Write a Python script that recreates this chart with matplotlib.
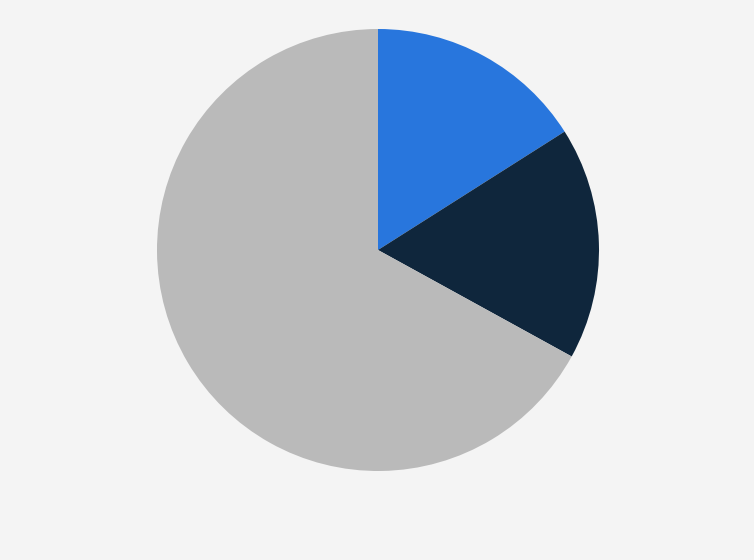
import matplotlib
matplotlib.use("Agg")
import matplotlib.pyplot as plt

labels = ["A", "B", "C"]
values = [16, 17, 67]
colors = ["#2876dd", "#0f263c", "#bababa"]

fig = plt.figure(figsize=(7.54, 5.6), dpi=100)
fig.patch.set_facecolor("#f4f4f4")

# square axes centred on the pie
ax = fig.add_axes([(378 - 221) / 754, (310 - 221) / 560, 442 / 754, 442 / 560])
ax.set_facecolor("#f4f4f4")
ax.pie(values, colors=colors, startangle=90, counterclock=False,
       radius=1, wedgeprops=dict(linewidth=0))
ax.set_xlim(-1, 1)
ax.set_ylim(-1, 1)
ax.set_aspect("equal")
ax.axis("off")

fig.savefig("out.png", dpi=100, facecolor=fig.get_facecolor())
